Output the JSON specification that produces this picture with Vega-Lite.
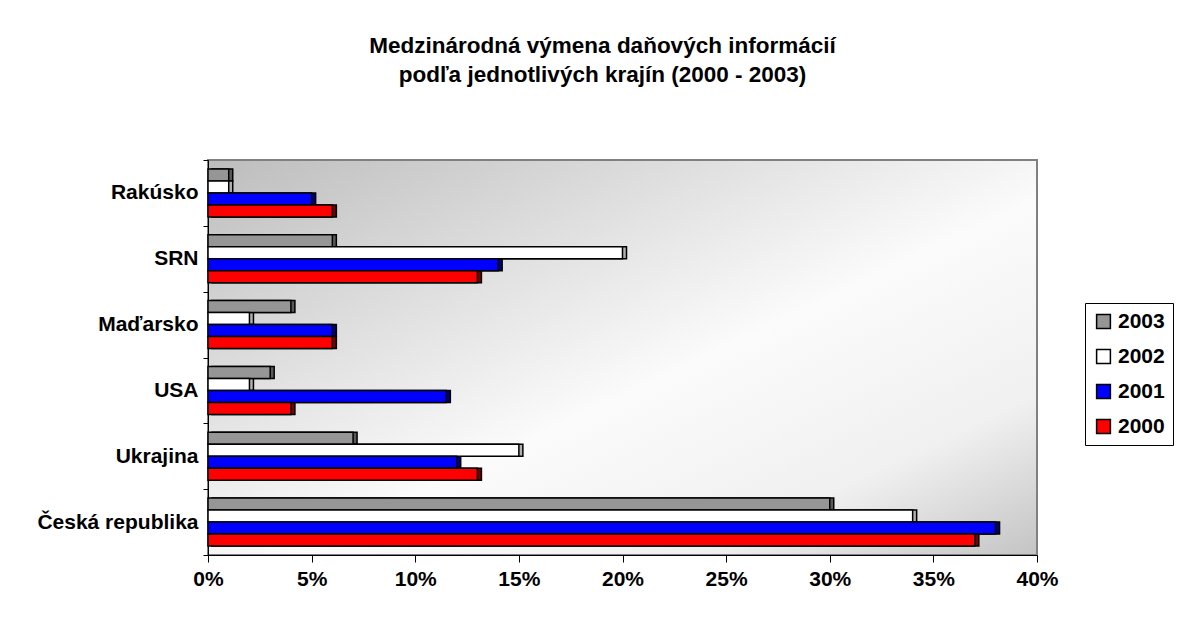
{
  "$schema": "https://vega.github.io/schema/vega-lite/v6.json",
  "autosize": "none",
  "width": 829,
  "height": 395,
  "padding": {"left": 208, "top": 160, "right": 143, "bottom": 78},
  "background": "white",
  "title": {
    "text": ["Medzinárodná výmena daňových informácií", "podľa jednotlivých krajín (2000 - 2003)"],
    "font": "Liberation Sans",
    "fontSize": 22.5,
    "fontWeight": "bold",
    "lineHeight": 29,
    "anchor": "middle",
    "frame": "group",
    "dx": -20,
    "offset": 63,
    "color": "black"
  },
  "data": {
    "values": [
      {"country": "Rakúsko", "year": "2003", "share": 0.01},
      {"country": "Rakúsko", "year": "2002", "share": 0.01},
      {"country": "Rakúsko", "year": "2001", "share": 0.05},
      {"country": "Rakúsko", "year": "2000", "share": 0.06},
      {"country": "SRN", "year": "2003", "share": 0.06},
      {"country": "SRN", "year": "2002", "share": 0.20},
      {"country": "SRN", "year": "2001", "share": 0.14},
      {"country": "SRN", "year": "2000", "share": 0.13},
      {"country": "Maďarsko", "year": "2003", "share": 0.04},
      {"country": "Maďarsko", "year": "2002", "share": 0.02},
      {"country": "Maďarsko", "year": "2001", "share": 0.06},
      {"country": "Maďarsko", "year": "2000", "share": 0.06},
      {"country": "USA", "year": "2003", "share": 0.03},
      {"country": "USA", "year": "2002", "share": 0.02},
      {"country": "USA", "year": "2001", "share": 0.115},
      {"country": "USA", "year": "2000", "share": 0.04},
      {"country": "Ukrajina", "year": "2003", "share": 0.07},
      {"country": "Ukrajina", "year": "2002", "share": 0.15},
      {"country": "Ukrajina", "year": "2001", "share": 0.12},
      {"country": "Ukrajina", "year": "2000", "share": 0.13},
      {"country": "Česká republika", "year": "2003", "share": 0.30},
      {"country": "Česká republika", "year": "2002", "share": 0.34},
      {"country": "Česká republika", "year": "2001", "share": 0.38},
      {"country": "Česká republika", "year": "2000", "share": 0.37}
    ]
  },
  "encoding": {
    "y": {
      "field": "country",
      "type": "nominal",
      "title": null,
      "scale": {
        "domain": ["Rakúsko", "SRN", "Maďarsko", "USA", "Ukrajina", "Česká republika"],
        "paddingInner": 0,
        "paddingOuter": 0
      },
      "axis": {
        "tickBand": "extent",
        "domainColor": "black",
        "domainWidth": 1,
        "tickColor": "black",
        "tickSize": 5,
        "labelPadding": 5,
        "labelFont": "Liberation Sans",
        "labelFontSize": 21,
        "labelFontWeight": "bold",
        "labelColor": "black"
      }
    },
    "yOffset": {
      "field": "year",
      "type": "nominal",
      "scale": {"domain": ["2003", "2002", "2001", "2000"], "paddingInner": 0, "paddingOuter": 0.74}
    },
    "x": {
      "field": "share",
      "type": "quantitative",
      "title": null,
      "scale": {"domain": [0, 0.4], "nice": false},
      "axis": {
        "values": [0, 0.05, 0.1, 0.15, 0.2, 0.25, 0.3, 0.35, 0.4],
        "format": ".0%",
        "grid": false,
        "domainColor": "black",
        "domainWidth": 1,
        "tickColor": "black",
        "tickSize": 7,
        "labelPadding": 6,
        "labelFont": "Liberation Sans",
        "labelFontSize": 21,
        "labelFontWeight": "bold",
        "labelColor": "black",
        "labelFlush": false
      }
    }
  },
  "layer": [
    {
      "mark": {"type": "bar", "xOffset": 4, "yOffset": -4, "stroke": "black", "strokeWidth": 1.5},
      "encoding": {
        "color": {
          "field": "year",
          "type": "nominal",
          "scale": {"domain": ["2003", "2002", "2001", "2000"], "range": ["#5a5a5a", "#b0b0b0", "#00007a", "#7a0000"]},
          "legend": null
        }
      }
    },
    {
      "mark": {"type": "bar", "stroke": "black", "strokeWidth": 1.5},
      "encoding": {
        "color": {
          "field": "year",
          "type": "nominal",
          "scale": {"domain": ["2003", "2002", "2001", "2000"], "range": ["#969696", "#ffffff", "#0000ff", "#ff0000"]},
          "legend": {
            "title": null,
            "orient": "none",
            "legendX": 877,
            "legendY": 143,
            "symbolType": "square",
            "symbolSize": 190,
            "symbolStrokeColor": "black",
            "symbolStrokeWidth": 1.5,
            "symbolOpacity": 1,
            "labelFont": "Liberation Sans",
            "labelFontSize": 21,
            "labelFontWeight": "bold",
            "labelColor": "black",
            "rowPadding": 13,
            "padding": 8,
            "strokeColor": "black",
            "fillColor": "white"
          }
        }
      }
    }
  ],
  "resolve": {"scale": {"color": "independent"}, "legend": {"color": "independent"}},
  "config": {
    "view": {
      "stroke": "#808080",
      "strokeWidth": 2,
      "fill": {
        "gradient": "linear",
        "x1": 0, "y1": 0, "x2": 1, "y2": 1,
        "stops": [
          {"offset": 0, "color": "#bdbdbd"},
          {"offset": 0.55, "color": "#fbfbfb"},
          {"offset": 0.8, "color": "#f0f0f0"},
          {"offset": 1, "color": "#c4c4c4"}
        ]
      }
    }
  }
}
